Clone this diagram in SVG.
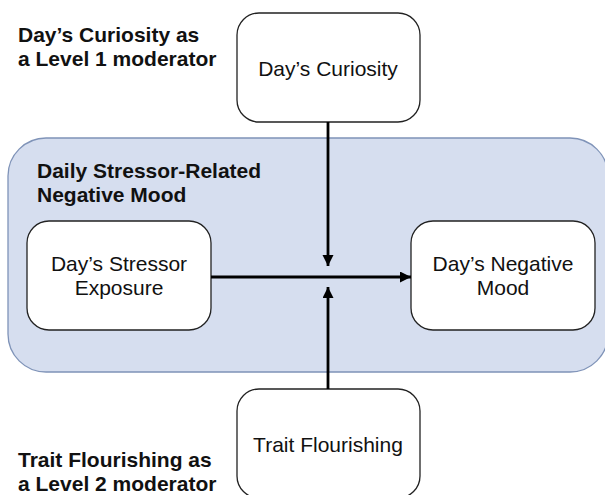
<svg xmlns="http://www.w3.org/2000/svg" width="605" height="495" viewBox="0 0 605 495">
<defs>
<marker id="ah" markerWidth="12" markerHeight="12" refX="11" refY="5.5" orient="auto" markerUnits="userSpaceOnUse">
<path d="M0,0 L11,5.5 L0,11 Z" fill="#000"/>
</marker>
<style>
.node{fill:#fff;stroke:#222;stroke-width:1.3}
.nt{font-family:"Liberation Sans",Arial,sans-serif;font-size:21px;fill:#111;text-anchor:middle}
.lb{font-family:"Liberation Sans",Arial,sans-serif;font-size:21px;font-weight:bold;fill:#111}
.cn{stroke:#000;stroke-width:2.8;fill:none}
</style>
</defs>
<rect width="605" height="495" fill="#fff"/>
<g id="container">
<rect x="8" y="138" width="600" height="234" rx="38" fill="#d6deef" stroke="#7f93b8" stroke-width="1.3"/>
<text class="lb" x="37" y="178">Daily Stressor-Related</text>
<text class="lb" x="37" y="202">Negative Mood</text>
</g>
<g id="label-level1">
<text class="lb" x="18" y="42">Day’s Curiosity as</text>
<text class="lb" x="18" y="66">a Level 1 moderator</text>
</g>
<g id="label-level2">
<text class="lb" x="18" y="467">Trait Flourishing as</text>
<text class="lb" x="18" y="491">a Level 2 moderator</text>
</g>
<g id="curiosity">
<rect class="node" x="237" y="13" width="183" height="109" rx="22"/>
<text class="nt" x="328" y="76">Day’s Curiosity</text>
</g>
<g id="stressor">
<rect class="node" x="27" y="221" width="184" height="109" rx="22"/>
<text class="nt" x="119" y="271">Day’s Stressor</text>
<text class="nt" x="119" y="295">Exposure</text>
</g>
<g id="mood">
<rect class="node" x="411" y="221" width="184" height="109" rx="22"/>
<text class="nt" x="503" y="271">Day’s Negative</text>
<text class="nt" x="503" y="295">Mood</text>
</g>
<g id="flourishing">
<rect class="node" x="237" y="389" width="183" height="109" rx="22"/>
<text class="nt" x="328" y="452">Trait Flourishing</text>
</g>
<g id="connectors">
<line class="cn" x1="328" y1="122" x2="328" y2="266" marker-end="url(#ah)"/>
<line class="cn" x1="328" y1="389" x2="328" y2="287" marker-end="url(#ah)"/>
<line class="cn" x1="211" y1="277" x2="411" y2="277" marker-end="url(#ah)"/>
</g>
</svg>
